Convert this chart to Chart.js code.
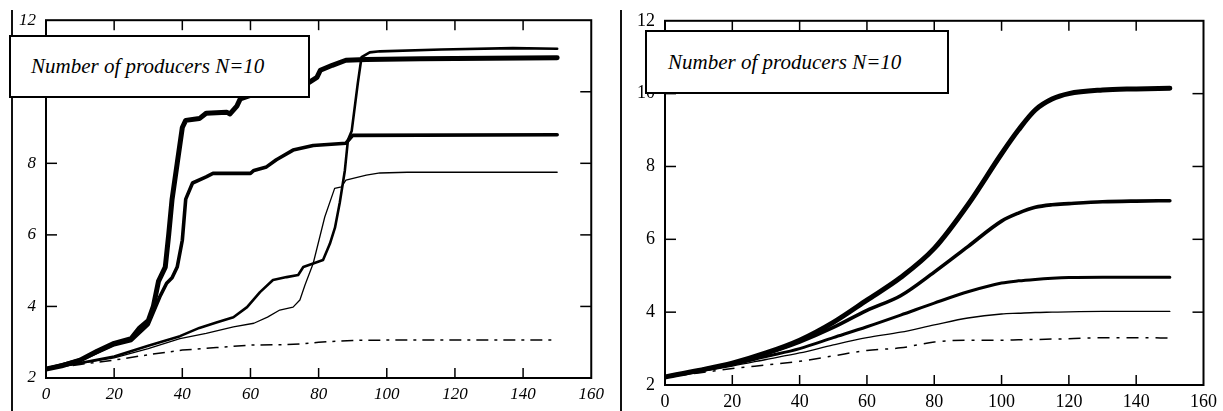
<!DOCTYPE html>
<html>
<head>
<meta charset="utf-8">
<script src="https://cdn.jsdelivr.net/npm/chart.js@4"></script>
<style>
  body { margin: 0; background: #fff; }
  #wrap { position: relative; width: 1223px; height: 411px; overflow: hidden; }
  canvas { position: absolute; top: 0; }
  .box {
    position: absolute; box-sizing: border-box; background: #fff;
    border: 2px solid #000; font-family: "Liberation Serif", "Times New Roman", serif;
    font-style: italic; font-size: 21px; color: #000;
    display: flex; align-items: center;
  }
  .edge { position: absolute; top: 10px; width: 2px; height: 401px; background: #111; }
</style>
</head>
<body>
<div id="wrap">
  <div class="edge" style="left:11px"></div>
  <div class="edge" style="left:620px"></div>
  <canvas id="leftGraph" width="610" height="411" style="left:0"></canvas>
  <canvas id="rightGraph" width="613" height="411" style="left:610px"></canvas>
  <div class="box" style="left:9px;top:35px;width:301px;height:63px;padding-left:20px">Number of producers N=10</div>
  <div class="box" style="left:645px;top:30px;width:304px;height:64px;padding-left:21px">Number of producers N=10</div>
</div>
<script>
// Axis ticks (both charts)
const xTickValues = [0, 20, 40, 60, 80, 100, 120, 140, 160];
const yTickValues = [2, 4, 6, 8, 10, 12];

// Left chart: jagged curves, each with its own x points
const leftAx = [0, 5, 10, 15, 20, 25, 27.5, 30, 31.5, 33, 35, 36, 37, 38.5, 40, 41, 45, 47, 53, 54, 56, 57, 60, 65, 70, 75, 77, 79.5, 80.5, 84, 88, 94, 110, 130, 150];
const leftAy = [2.25, 2.35, 2.5, 2.75, 2.97, 3.1, 3.4, 3.6, 4.0, 4.7, 5.1, 6.0, 7.0, 8.0, 9.0, 9.2, 9.25, 9.4, 9.43, 9.38, 9.6, 9.8, 9.9, 10.0, 10.1, 10.2, 10.25, 10.4, 10.6, 10.74, 10.88, 10.9, 10.92, 10.94, 10.95];

const leftBx = [0, 10, 20, 25, 30, 33.4, 35.4, 37, 38.5, 40, 41, 43, 47, 49, 60, 61, 64.7, 67.6, 72.5, 78.4, 88, 90, 150];
const leftBy = [2.25, 2.5, 2.93, 3.05, 3.5, 4.27, 4.65, 4.8, 5.1, 5.85, 7.0, 7.45, 7.62, 7.72, 7.72, 7.8, 7.9, 8.1, 8.37, 8.5, 8.56, 8.78, 8.8];

const leftCx = [0, 10, 20, 30, 39.3, 45, 50, 55, 59, 62.8, 66.6, 70.6, 74, 75.5, 78.4, 81.3, 83.3, 84.8, 86.2, 87.7, 88.6, 89.7, 91.5, 92.6, 95, 98, 116, 137, 150];
const leftCy = [2.25, 2.42, 2.6, 2.9, 3.17, 3.4, 3.55, 3.7, 3.98, 4.4, 4.74, 4.82, 4.88, 5.1, 5.2, 5.3, 5.75, 6.2, 6.9, 7.8, 8.65, 8.9, 10.24, 10.97, 11.1, 11.13, 11.18, 11.22, 11.2];

const leftDx = [0, 10, 20, 30, 39.3, 47, 55, 61, 65, 68.6, 72.5, 74.5, 76, 78.4, 81.8, 84.7, 86.7, 88, 94, 98, 106, 150];
const leftDy = [2.25, 2.4, 2.56, 2.82, 3.1, 3.25, 3.43, 3.53, 3.7, 3.9, 3.98, 4.18, 4.6, 5.2, 6.5, 7.3, 7.34, 7.53, 7.67, 7.73, 7.75, 7.75];

const leftEx = [0, 10, 20, 30, 40, 50, 60, 70, 76, 80, 90, 100, 150];
const leftEy = [2.25, 2.38, 2.5, 2.65, 2.78, 2.85, 2.92, 2.93, 2.96, 3.0, 3.05, 3.06, 3.06];

// Right chart: smooth curves on a common x grid
const rightX = [0, 10, 20, 30, 40, 50, 60, 70, 80, 90, 100, 105, 110, 115, 120, 130, 140, 150];
const rightA = [2.22, 2.4, 2.6, 2.88, 3.23, 3.72, 4.33, 4.95, 5.75, 6.95, 8.35, 9.0, 9.55, 9.85, 10.0, 10.1, 10.13, 10.15];
const rightB = [2.22, 2.4, 2.6, 2.86, 3.18, 3.58, 4.05, 4.45, 5.1, 5.8, 6.5, 6.72, 6.88, 6.95, 6.98, 7.03, 7.05, 7.06];
const rightC = [2.22, 2.38, 2.56, 2.78, 3.0, 3.3, 3.6, 3.92, 4.25, 4.56, 4.8, 4.86, 4.9, 4.93, 4.95, 4.96, 4.96, 4.96];
const rightD = [2.22, 2.36, 2.52, 2.7, 2.88, 3.1, 3.3, 3.45, 3.65, 3.84, 3.95, 3.97, 3.99, 4.0, 4.01, 4.02, 4.02, 4.02];
const rightE = [2.22, 2.33, 2.45, 2.55, 2.65, 2.8, 2.95, 3.02, 3.18, 3.23, 3.23, 3.24, 3.25, 3.26, 3.27, 3.3, 3.3, 3.29];

const makePoints = (xs, ys) => xs.map((x, i) => ({ x: x, y: ys[i] }));

const lineSet = (data, width, tension, dash) => ({
    data: data,
    borderColor: "#000",
    borderWidth: width,
    borderDash: dash || [],
    borderCapStyle: dash ? "butt" : "round",
    borderJoinStyle: "round",
    pointRadius: 0,
    tension: tension,
    cubicInterpolationMode: tension ? "monotone" : "default",
    fill: false,
});

// Frame with ticks pointing inside
const frameTicks = {
    id: "frameTicks",
    afterDraw(chart) {
        const { ctx, chartArea: a, scales } = chart;
        const line = (x1, y1, x2, y2) => {
            ctx.beginPath();
            ctx.moveTo(x1, y1);
            ctx.lineTo(x2, y2);
            ctx.stroke();
        };
        ctx.save();
        ctx.strokeStyle = "#000";
        ctx.lineWidth = 2;
        ctx.strokeRect(a.left, a.top, a.right - a.left, a.bottom - a.top);
        ctx.lineWidth = 1.5;
        xTickValues.slice(1, -1).forEach((v) => {
            const px = scales.x.getPixelForValue(v);
            line(px, a.bottom, px, a.bottom - 10);
            line(px, a.top, px, a.top + 10);
        });
        yTickValues.slice(1, -1).forEach((v) => {
            const py = scales.y.getPixelForValue(v);
            line(a.left, py, a.left + 11, py);
            line(a.right, py, a.right - 11, py);
        });
        ctx.restore();
    },
};

const buildChart = (id, datasets, opts) => {
    const ctx = document.getElementById(id).getContext("2d");
    const font = { family: "'Liberation Serif', 'Times New Roman', serif", size: opts.fontSize, style: opts.fontStyle };
    return new Chart(ctx, {
        type: "line",
        data: { datasets: datasets },
        plugins: [frameTicks],
        options: {
            responsive: false,
            animation: false,
            devicePixelRatio: 1,
            layout: { padding: { top: 20, right: 18, left: 0, bottom: 0 } },
            plugins: { legend: { display: false }, tooltip: { enabled: false } },
            scales: {
                x: {
                    type: "linear",
                    min: 0,
                    max: 160,
                    afterBuildTicks: (scale) => { scale.ticks = xTickValues.map((v) => ({ value: v })); },
                    afterFit: (scale) => { scale.height = opts.xHeight; },
                    grid: { display: false, drawTicks: false },
                    border: { display: false },
                    ticks: { color: "#000", font: font, padding: 6, autoSkip: false, maxRotation: 0 },
                },
                y: {
                    min: 2,
                    max: 12,
                    afterBuildTicks: (scale) => { scale.ticks = yTickValues.map((v) => ({ value: v })); },
                    afterFit: (scale) => { scale.width = opts.yWidth; },
                    grid: { display: false, drawTicks: false },
                    border: { display: false },
                    ticks: { color: "#000", font: font, padding: 10 },
                },
            },
        },
    });
};

buildChart("leftGraph", [
    lineSet(makePoints(leftEx, leftEy), 1.5, 0, [12, 6, 3, 6]),
    lineSet(makePoints(leftDx, leftDy), 1.3, 0),
    lineSet(makePoints(leftCx, leftCy), 2.6, 0),
    lineSet(makePoints(leftBx, leftBy), 3.6, 0),
    lineSet(makePoints(leftAx, leftAy), 5, 0),
], { fontSize: 17, fontStyle: "italic", xHeight: 33, yWidth: 46 });

buildChart("rightGraph", [
    lineSet(makePoints(rightX, rightE), 1.5, 0.4, [12, 7, 3, 7]),
    lineSet(makePoints(rightX, rightD), 1.3, 0.4),
    lineSet(makePoints(rightX, rightC), 3, 0.4),
    lineSet(makePoints(rightX, rightB), 3.6, 0.4),
    lineSet(makePoints(rightX, rightA), 5, 0.4),
], { fontSize: 18, fontStyle: "normal", xHeight: 26, yWidth: 55 });
</script>
</body>
</html>
